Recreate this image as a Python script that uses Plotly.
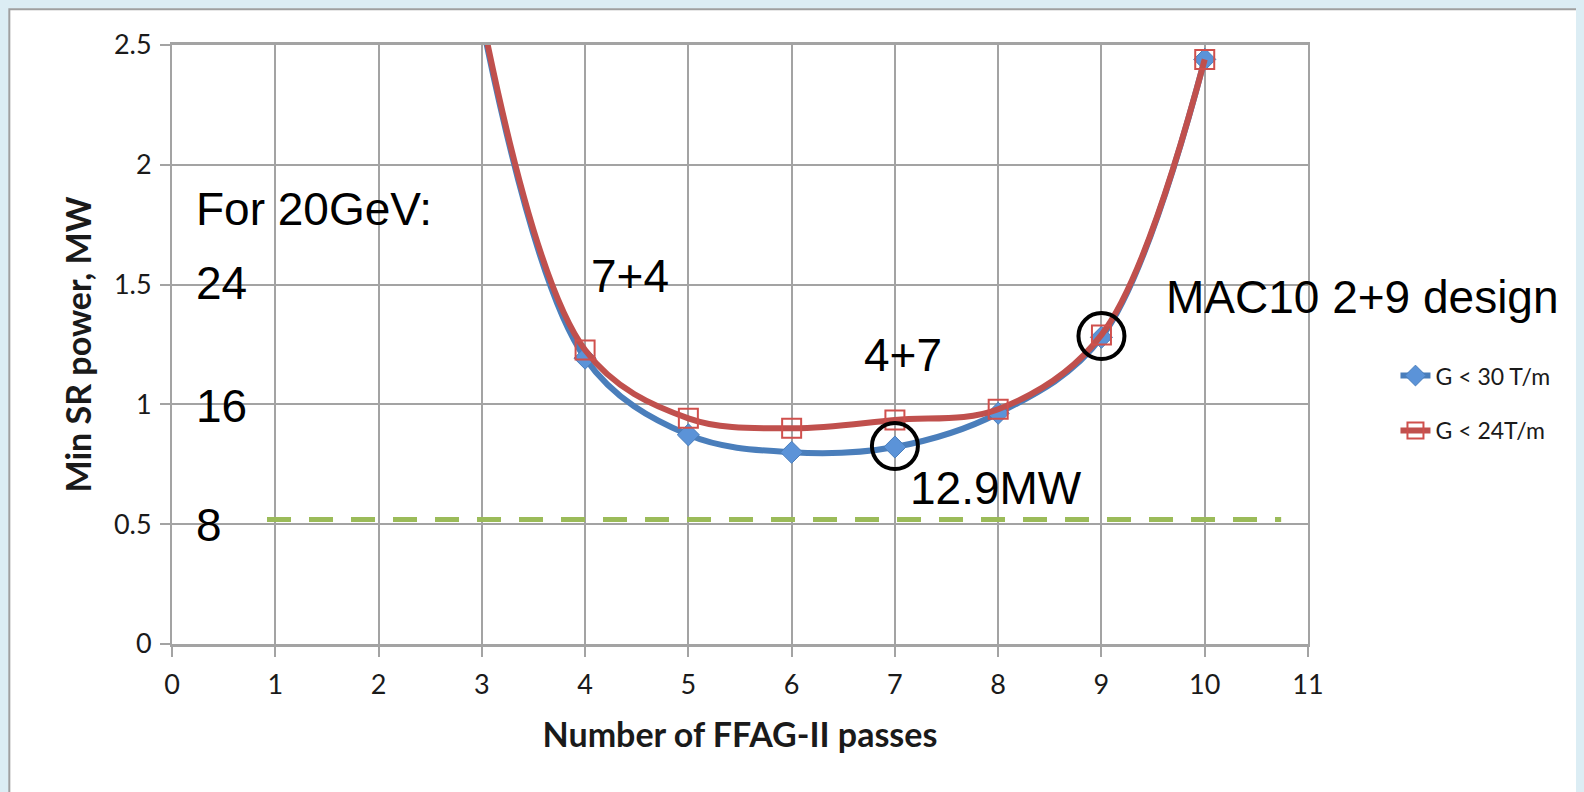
import plotly.graph_objects as go

# Data
passes = [3, 4, 5, 6, 7, 8, 9, 10]
g30 = [2.60, 1.193, 0.873, 0.800, 0.822, 0.963, 1.28, 2.44]
g24 = [2.62, 1.227, 0.942, 0.900, 0.935, 0.980, 1.29, 2.44]
series_names = ["G < 30 T/m", "G < 24T/m"]

limit_x = [0.92, 10.74]
limit_y = [0.52, 0.52]

circle_x = [7, 9]
circle_y = [0.826, 1.285]

ann_texts = ["For 20GeV:", "24", "16", "8", "7+4", "4+7", "12.9MW", "MAC10 2+9 design"]
ann_x = [0.216, 0.216, 0.216, 0.216, 4.04, 6.68, 7.13, 9.607]
ann_y = [1.816, 1.505, 0.992, 0.496, 1.535, 1.206, 0.65, 1.448]

x_ticks = list(range(0, 12))
y_ticks = [0, 0.5, 1, 1.5, 2, 2.5]

BLUE = "#4a7ebb"
RED = "#c0504d"
GREEN = "#9bbb59"
GRID = "#a3a3a3"
FONT = "Lato, Carlito, Calibri, sans-serif"
TICKFONT = dict(family=FONT, size=27, color="#1a1a1a")

fig = go.Figure()

fig.add_trace(go.Scatter(
    x=limit_x, y=limit_y, mode="lines",
    line=dict(color=GREEN, width=5, dash="24px,18px"),
    showlegend=False, hoverinfo="skip"))

fig.add_trace(go.Scatter(
    x=passes, y=g30, mode="lines+markers", name=series_names[0],
    legendgroup="a",
    line=dict(color=BLUE, width=6, shape="spline", smoothing=1.0),
    marker=dict(symbol="diamond", size=17, color="#5b93d8",
                line=dict(color="#4a7ebb", width=1))))

fig.add_trace(go.Scatter(
    x=passes, y=g24, mode="lines+markers", name=series_names[1],
    legendgroup="b",
    line=dict(color=RED, width=6, shape="spline", smoothing=1.0),
    marker=dict(symbol="square-open", size=19, color="#d0504d",
                line=dict(color="#d0504d", width=2))))

fig.add_trace(go.Scatter(
    x=circle_x, y=circle_y, mode="markers",
    marker=dict(symbol="circle-open", size=46, color="black",
                line=dict(color="black", width=4)),
    showlegend=False, hoverinfo="skip", cliponaxis=False))

for t, x, y in zip(ann_texts, ann_x, ann_y):
    fig.add_annotation(x=x, y=y, text=t, showarrow=False,
                       xanchor="left", yanchor="middle",
                       font=dict(family="Liberation Sans, Arial, sans-serif",
                                 size=46, color="black"))

# page frame
fig.add_shape(type="rect", xref="paper", yref="paper",
              x0=-0.1432, x1=1.2412, y0=-0.27, y1=1.0595,
              fillcolor="white", line=dict(color="#a0a0a0", width=2),
              layer="below")

fig.update_layout(
    width=1576, height=784,
    margin=dict(l=163.7, r=276, t=36.5, b=148),
    paper_bgcolor="#dcedf4",
    plot_bgcolor="rgba(0,0,0,0)",
    legend=dict(x=1.077, y=0.484, xanchor="left", yanchor="top",
                traceorder="grouped", tracegroupgap=22,
                bgcolor="rgba(0,0,0,0)",
                font=dict(family=FONT, size=23, color="#1a1a1a")),
    xaxis=dict(range=[0, 11], tickvals=x_ticks, ticks="outside", ticklen=10,
               tickcolor=GRID, tickwidth=1.5,
               showgrid=True, gridcolor=GRID, gridwidth=1.5,
               showline=True, linecolor=GRID, linewidth=2.5, mirror=True,
               zeroline=False, tickfont=TICKFONT, ticklabelstandoff=5,
               title=dict(text="<b>Number of FFAG-II passes</b>", standoff=25,
                          font=dict(family=FONT, size=34, color="#1a1a1a"))),
    yaxis=dict(range=[0, 2.5], tickvals=y_ticks, ticks="outside", ticklen=10,
               tickcolor=GRID, tickwidth=1.5,
               showgrid=True, gridcolor=GRID, gridwidth=1.5,
               showline=True, linecolor=GRID, linewidth=2, mirror=True,
               zeroline=False, tickfont=TICKFONT, ticklabelstandoff=3,
               title=dict(text="<b>Min SR power, MW</b>", standoff=12,
                          font=dict(family=FONT, size=34, color="#1a1a1a"))),
)

fig.write_html("out.html",
               post_script="document.body.style.background='#dcedf4';")
